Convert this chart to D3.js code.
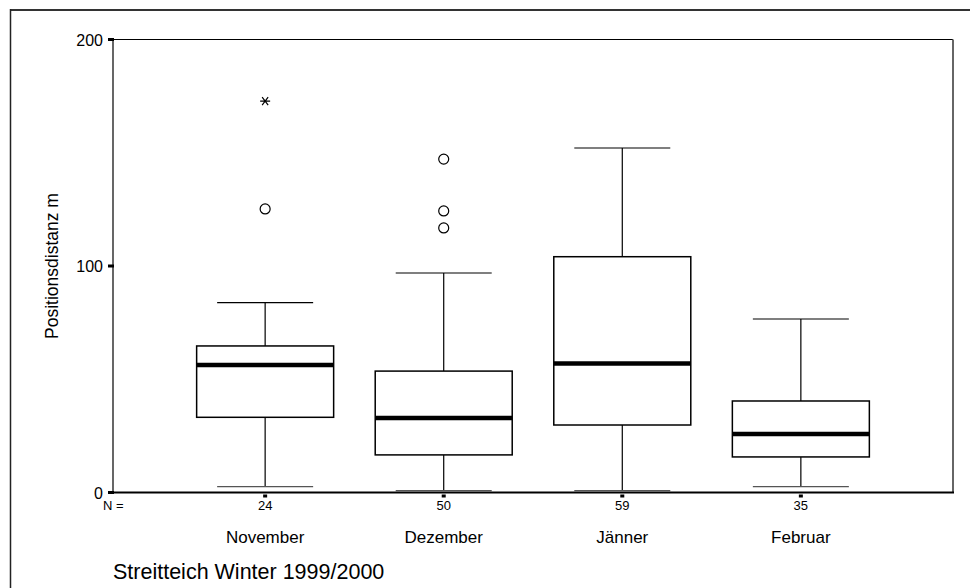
<!DOCTYPE html>
<html><head><meta charset="utf-8">
<script src="https://cdn.jsdelivr.net/npm/d3@7/dist/d3.min.js"></script>
<style>body{margin:0;background:#fff}svg{display:block}text{font-family:"Liberation Sans",Arial,sans-serif;fill:#000}</style>
</head><body>
<svg id="c" width="970" height="588"></svg>
<script>
const categories = ["November", "Dezember", "Jänner", "Februar"];
const nValues = [24, 50, 59, 35];
const whiskerLow = [2.6, 0.8, 0.8, 2.6];
const q1 = [33.2, 16.6, 29.8, 15.7];
const median = [56.3, 32.9, 57.0, 25.8];
const q3 = [64.7, 53.6, 104.1, 40.4];
const whiskerHigh = [83.8, 96.9, 152.1, 76.6];
const outliers = [[125.2], [116.8, 124.3, 147.2], [], []];
const extremes = [[172.8], [], [], []];
const yTicks = [0, 100, 200];
const yTitle = "Positionsdistanz m";
const caption = "Streitteich Winter 1999/2000";

const svg = d3.select("#c");
const L = 113, R = 953, T = 39.5, B = 492.5;
const y = d3.scaleLinear().domain([0, 200]).range([B, T]);
const x = d3.scalePoint().domain(categories).range([L, R]).padding(0.852);
const boxW = 137, capW = 96;

// outer frame
svg.append("line").attr("x1", 10).attr("x2", 970).attr("y1", 10).attr("y2", 10).attr("stroke", "#333").attr("stroke-width", 2);
svg.append("line").attr("x1", 10.5).attr("x2", 10.5).attr("y1", 9).attr("y2", 588).attr("stroke", "#222").attr("stroke-width", 1.5);

// plot frame
svg.append("line").attr("x1", L).attr("x2", R).attr("y1", T).attr("y2", T).attr("stroke", "#000").attr("stroke-width", 1);
svg.append("line").attr("x1", R).attr("x2", R).attr("y1", T).attr("y2", B).attr("stroke", "#666").attr("stroke-width", 2);

const g = svg.append("g");
categories.forEach((c, i) => {
  const cx = x(c);
  // whiskers
  g.append("line").attr("x1", cx).attr("x2", cx).attr("y1", y(q3[i])).attr("y2", y(whiskerHigh[i])).attr("stroke", "#000").attr("stroke-width", 1.2);
  g.append("line").attr("x1", cx).attr("x2", cx).attr("y1", y(q1[i])).attr("y2", y(whiskerLow[i])).attr("stroke", "#000").attr("stroke-width", 1.2);
  g.append("line").attr("x1", cx - capW / 2).attr("x2", cx + capW / 2).attr("y1", y(whiskerHigh[i])).attr("y2", y(whiskerHigh[i])).attr("stroke", "#000").attr("stroke-width", 1.2);
  g.append("line").attr("x1", cx - capW / 2).attr("x2", cx + capW / 2).attr("y1", y(whiskerLow[i])).attr("y2", y(whiskerLow[i])).attr("stroke", "#555").attr("stroke-width", 1.2);
  // box
  g.append("rect").attr("x", cx - boxW / 2).attr("width", boxW).attr("y", y(q3[i])).attr("height", y(q1[i]) - y(q3[i]))
    .attr("fill", "#fff").attr("stroke", "#000").attr("stroke-width", 1.5);
  g.append("line").attr("x1", cx - boxW / 2).attr("x2", cx + boxW / 2).attr("y1", y(median[i])).attr("y2", y(median[i])).attr("stroke", "#000").attr("stroke-width", 4.5);
  // outliers
  outliers[i].forEach(v => g.append("circle").attr("cx", cx).attr("cy", y(v)).attr("r", 5).attr("fill", "none").attr("stroke", "#000").attr("stroke-width", 1.2));
  extremes[i].forEach(v => {
    const s = 5, sy = y(v);
    g.append("path").attr("d", `M${cx - s},${sy}H${cx + s}M${cx - s * 0.6},${sy - s * 0.8}L${cx + s * 0.6},${sy + s * 0.8}M${cx - s * 0.6},${sy + s * 0.8}L${cx + s * 0.6},${sy - s * 0.8}`)
      .attr("stroke", "#000").attr("stroke-width", 1.2).attr("fill", "none");
  });
  // x tick marker
  g.append("rect").attr("x", cx - 2).attr("y", B + 2).attr("width", 4).attr("height", 3).attr("fill", "#000");
  // N labels
  g.append("text").attr("x", cx).attr("y", B + 17).attr("text-anchor", "middle").attr("font-size", 13).text(nValues[i]);
  g.append("text").attr("x", cx).attr("y", B + 50).attr("text-anchor", "middle").attr("font-size", 17).text(c);
});

// axes lines
svg.append("line").attr("x1", L).attr("x2", L).attr("y1", T).attr("y2", B).attr("stroke", "#000").attr("stroke-width", 1.2);
svg.append("line").attr("x1", L).attr("x2", R + 1).attr("y1", B).attr("y2", B).attr("stroke", "#000").attr("stroke-width", 2);

// y ticks
yTicks.forEach(t => {
  svg.append("rect").attr("x", L - 5).attr("y", y(t) - 1.5).attr("width", 6).attr("height", 3).attr("fill", "#000");
  svg.append("text").attr("x", 103).attr("y", y(t) + 6).attr("text-anchor", "end").attr("font-size", 16).text(t);
});

svg.append("text").attr("x", 103).attr("y", B + 17).attr("font-size", 13).text("N =");
svg.append("text").attr("transform", `translate(58,${(T + B) / 2}) rotate(-90)`).attr("text-anchor", "middle").attr("font-size", 17.5).text(yTitle);
svg.append("text").attr("x", 113).attr("y", 579).attr("font-size", 21.5).text(caption);
</script>
</body></html>
